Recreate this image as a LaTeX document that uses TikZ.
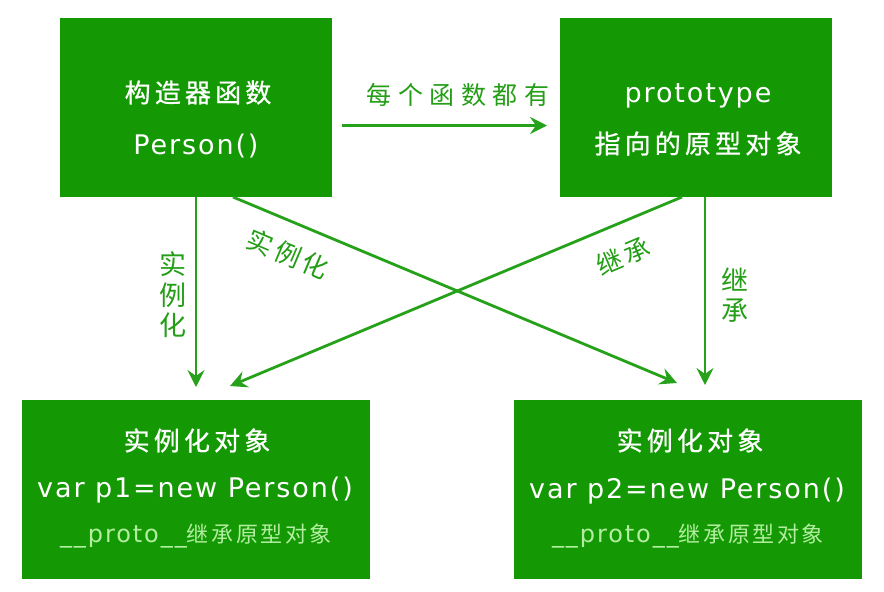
\documentclass[tikz,border=0pt]{standalone}
\usepackage{fontspec}
\setmainfont{DejaVu Sans}
\newfontfamily\cjkbox[LetterSpace=16,FakeBold=0.8]{Noto Sans CJK SC}
\newfontfamily\cjklab[LetterSpace=26]{Noto Sans CJK SC}
\newfontfamily\cjkdiag[LetterSpace=15]{Noto Sans CJK SC}
\newfontfamily\cjkvert{Noto Sans CJK SC}
\newfontfamily\cjksmall[LetterSpace=12]{Noto Sans CJK SC}
\newfontfamily\latbox[LetterSpace=7]{DejaVu Sans}
\newfontfamily\latsmall[LetterSpace=8]{DejaVu Sans}
\usetikzlibrary{arrows.meta}
\definecolor{boxgreen}{RGB}{20,153,4}
\definecolor{linegreen}{RGB}{38,162,26}
\definecolor{labgreen}{RGB}{36,158,22}
\definecolor{lightg}{RGB}{178,238,160}
\begin{document}
\begin{tikzpicture}[x=1pt,y=-1pt,
  box/.style={fill=boxgreen, draw=none, inner sep=0pt, outer sep=0pt},
  topbox/.style={box, minimum width=272pt, minimum height=179pt},
  botbox/.style={box, minimum width=348pt, minimum height=179pt},
  cjkw/.style={text=white, inner sep=0pt, font=\cjkbox\fontsize{26}{26}\selectfont},
  latw/.style={text=white, inner sep=0pt, anchor=base, font=\latbox\fontsize{27}{27}\selectfont},
  smallw/.style={text=lightg, inner sep=0pt, anchor=base, font=\fontsize{24}{24}\selectfont},
  lab/.style={text=labgreen, inner sep=0pt, font=\cjklab\fontsize{25}{25}\selectfont},
  dlab/.style={text=labgreen, inner sep=0pt, font=\cjkdiag\fontsize{26}{26}\selectfont},
  vlab/.style={text=labgreen, inner sep=0pt, align=center, font=\cjkvert\fontsize{27}{30.5}\selectfont},
  arr/.style={draw=linegreen, line width=2.8pt, -{Stealth[length=17pt,width=17pt,inset=6pt]}}
]
\useasboundingbox (0,0) rectangle (884,592);
\fill[white] (0,0) rectangle (884,592);

% boxes
\node[topbox] (tl) at (196,107.5) {};
\node[topbox] (tr) at (696,107.5) {};
\node[botbox] (bl) at (196,489.5) {};
\node[botbox] (br) at (688,489.5) {};

% box texts
\node[cjkw] (tl1) at (198,92.5) {构造器函数};
\node[latw] (tl2) at (196,154) {Person()};
\node[latw] (tr1) at (698,102) {prototype};
\node[cjkw] (tr2) at (698,143.5) {指向的原型对象};
\node[cjkw] (bl1) at (197,440.5) {实例化对象};
\node[latw] (bl2) at (195,497) {var p1=new Person()};
\node[smallw] (bl3) at (196,542) {{\latsmall\_\_proto\_\_}{\cjksmall\fontsize{22}{22}\selectfont 继承原型对象}};
\node[cjkw] (br1) at (690,440.5) {实例化对象};
\node[latw] (br2) at (687,498) {var p2=new Person()};
\node[smallw] (br3) at (688,542) {{\latsmall\_\_proto\_\_}{\cjksmall\fontsize{22}{22}\selectfont 继承原型对象}};

% connectors
\draw[arr] ([xshift=10pt,yshift=-18pt]tl.east) -- ([xshift=-13pt,yshift=-18pt]tr.west);
\draw[arr] (tl.south) -- ([yshift=13pt]bl.north);
\draw[arr] ([xshift=9pt]tr.south) -- ([xshift=17pt,yshift=15pt]br.north);
\draw[arr] ([xshift=37pt]tl.south) -- ([xshift=-11pt,yshift=17pt]br.north);
\draw[arr] ([xshift=-14pt]tr.south) -- ([xshift=34pt,yshift=14pt]bl.north);

% labels
\node[lab] (l1) at (458,95) {每个函数都有};
\node[vlab] (l2) at (173,295) {实\\例\\化};
\node[vlab] (l3) at (735,295) {继\\承};
\node[dlab, rotate=-23] (l4) at (288,254) {实例化};
\node[dlab, rotate=23] (l5) at (623,256) {继承};
\end{tikzpicture}
\end{document}
